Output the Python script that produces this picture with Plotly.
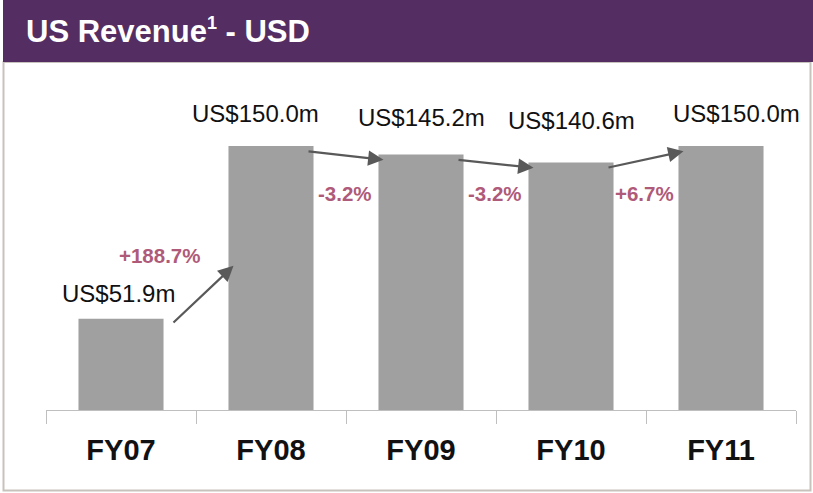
import plotly.graph_objects as go

# ---- data ----
categories = ["FY07", "FY08", "FY09", "FY10", "FY11"]
revenue_m = [51.9, 150.0, 145.2, 140.6, 150.0]
growth_labels = ["+188.7%", "-3.2%", "-3.2%", "+6.7%"]
title_main = "US Revenue"
title_note = "1"
title_tail = " - USD"

# ---- style ----
W, H = 813, 493
header_h = 62
bar_color = "#a0a0a0"
arrow_color = "#595959"
pct_color = "#b05a7a"
purple = "#542e62"
border_color = "#c8c2bc"
font_main = "Liberation Sans, Arial, sans-serif"
label_xshift = [-3, -16, 0, 0, 15]
label_yshift = [10, 17, 21, 27, 17]

baseline_px = 410
top_px = 70
y_max = 193.2

fig = go.Figure()
fig.add_trace(go.Bar(
    x=categories, y=revenue_m, marker=dict(color=bar_color, line=dict(width=0)),
    width=0.567, hoverinfo="skip", showlegend=False,
))

ann = []
# value labels
for i, v in enumerate(revenue_m):
    ann.append(dict(
        x=i, y=v, xref="x", yref="y", text=f"US${v:.1f}m", showarrow=False,
        yanchor="bottom", yshift=label_yshift[i], xshift=label_xshift[i],
        font=dict(family=font_main, size=24, color="#111111"),
    ))

# arrows between bars & growth labels
for i, g in enumerate(growth_labels):
    big = abs(revenue_m[i + 1] - revenue_m[i]) > 30
    sx, sy = i + (0.34 if big else 0.24), revenue_m[i] - 3
    ex = i + 1 - 0.25
    ey = min(revenue_m[i + 1] - 3, revenue_m[i] + 30)
    ann.append(dict(
        x=ex, y=ey, ax=sx, ay=sy, xref="x", yref="y", axref="x", ayref="y",
        showarrow=True, arrowhead=2, arrowsize=1.4, arrowwidth=2.2,
        arrowcolor=arrow_color, text="",
    ))
    if big:
        px_, py_ = i + 0.26, ey + 6
    else:
        px_, py_ = i + 0.49, 0.82 * max(revenue_m)
    ann.append(dict(
        x=px_, y=py_, xref="x", yref="y", text=f"<b>{g}</b>", showarrow=False,
        font=dict(family=font_main, size=20.5, color=pct_color),
    ))

# header title
title_html = (f"<b>{title_main}<sup><span style='font-size:18px'>{title_note}</span></sup>"
              f"{title_tail}</b>")
ann.append(dict(
    x=24 / W, y=1 - 31 / H, xref="paper", yref="paper", xanchor="left",
    yanchor="middle", showarrow=False, text=title_html,
    font=dict(family=font_main, size=31, color="white"),
))

shapes = [
    dict(type="rect", xref="paper", yref="paper", x0=3.5 / W, x1=810.5 / W,
         y0=1 - 490.5 / H, y1=1 - header_h / H,
         line=dict(color=border_color, width=2), fillcolor="white", layer="below"),
    dict(type="rect", xref="paper", yref="paper", x0=3 / W, x1=1,
         y0=1 - header_h / H, y1=1, line=dict(width=0), fillcolor=purple, layer="below"),
]

fig.update_layout(
    width=W, height=H, margin=dict(l=0, r=0, t=0, b=0),
    paper_bgcolor="white", plot_bgcolor="rgba(0,0,0,0)",
    annotations=ann, shapes=shapes, bargap=0.433,
    xaxis=dict(
        domain=[46 / W, 796 / W], range=[-0.5, 4.5], type="category",
        showline=True, linecolor="#bfbfbf", linewidth=1,
        ticks="outside", tickson="boundaries", ticklen=13, tickcolor="#bfbfbf",
        tickfont=dict(family=font_main, size=29, color="#111111"),
        ticklabelstandoff=14, showgrid=False, zeroline=False,
        tickvals=categories, ticktext=[f"<b>{c}</b>" for c in categories],
        fixedrange=True,
    ),
    yaxis=dict(
        domain=[(H - baseline_px) / H, (H - top_px) / H], range=[0, y_max],
        visible=False, showgrid=False, zeroline=False, fixedrange=True,
    ),
)

fig.write_html(
    "out.html",
    config={"displayModeBar": False},
    post_script="document.body.style.margin='0';document.body.style.overflow='hidden';",
)
